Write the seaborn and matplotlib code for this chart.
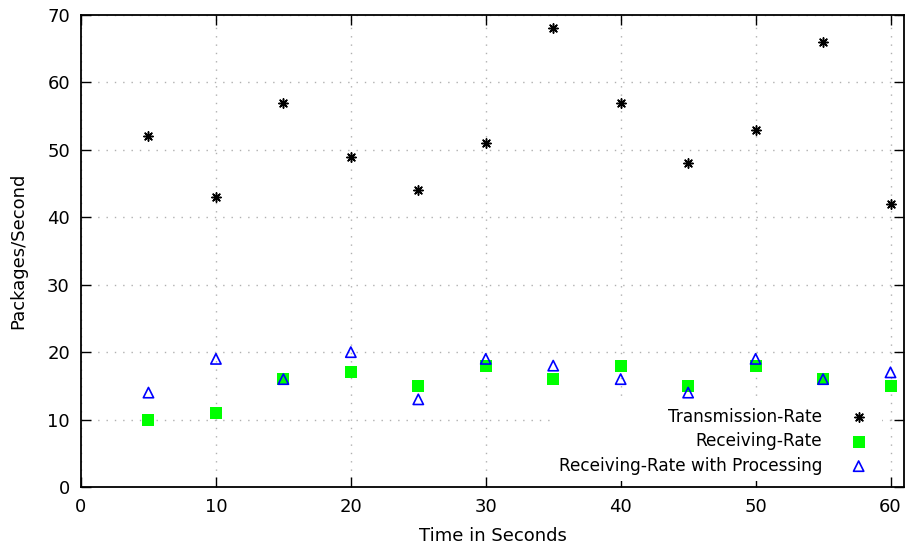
import matplotlib
matplotlib.use("Agg")
import matplotlib.pyplot as plt
import seaborn as sns
import pandas as pd

time_s = [5, 10, 15, 20, 25, 30, 35, 40, 45, 50, 55, 60]
transmission_rate = [52, 43, 57, 49, 44, 51, 68, 57, 48, 53, 66, 42]
receiving_rate = [10, 11, 16, 17, 15, 18, 16, 18, 15, 18, 16, 15]
receiving_proc = [14, 19, 16, 20, 13, 19, 18, 16, 14, 19, 16, 17]
x_ticks = [0, 10, 20, 30, 40, 50, 60]
y_ticks = [0, 10, 20, 30, 40, 50, 60, 70]

sns.set_theme(style="ticks")
plt.rcParams['font.family'] = ['DejaVu Sans']
plt.rcParams['font.size'] = 12
plt.rcParams['text.color'] = 'black'
plt.rcParams['axes.labelcolor'] = 'black'

fig = plt.figure(figsize=(9.06, 5.58), dpi=100)
ax = fig.add_axes([81/906, 1-487/558, (904-81)/906, (487-15)/558])

df = pd.DataFrame({"t": time_s, "tx": transmission_rate, "rx": receiving_rate, "rp": receiving_proc})

sns.scatterplot(data=df, x="t", y="tx", ax=ax, marker=(8, 2, 0), s=45,
                color="black", edgecolor="black", linewidth=1.1, label="Transmission-Rate", zorder=3)
sns.scatterplot(data=df, x="t", y="rx", ax=ax, marker="s", s=65,
                color="#00ff00", edgecolor="#00ff00", linewidth=0, label="Receiving-Rate", zorder=3)
sns.scatterplot(data=df, x="t", y="rp", ax=ax, marker="^", s=55,
                facecolors="none", edgecolor="#0000ff", linewidth=1.2,
                label="Receiving-Rate with Processing", zorder=4)

ax.set_xlim(0, 61)
ax.set_ylim(0, 70)
ax.set_xticks(x_ticks)
ax.set_yticks(y_ticks)
ax.grid(True, linestyle=(0, (1, 5)), color="#b0b0b0", linewidth=1.0)
ax.set_axisbelow(True)
for sp in ax.spines.values():
    sp.set_visible(True)
    sp.set_color("black")
    sp.set_linewidth(1.3)
ax.tick_params(direction="in", length=7, width=1, top=True, right=True,
               labelsize=13, colors="black", pad=8)
ax.set_xlabel("Time in Seconds", fontsize=13, labelpad=8, color="black")
ax.set_ylabel("Packages/Second", fontsize=13, labelpad=14, color="black")

leg = ax.legend(loc="lower right", bbox_to_anchor=(0.984, -0.006), frameon=True,
                markerfirst=False, alignment="right", fontsize=12.2,
                handletextpad=1.14, borderpad=0.4, labelspacing=0.38)
leg.get_frame().set_facecolor("white")
leg.get_frame().set_edgecolor("none")
leg.get_frame().set_alpha(1)
for t in leg.get_texts():
    t.set_horizontalalignment("right")
    t.set_color("black")
leg._legend_box.align = "right"

fig.savefig("out.png", dpi=100)
